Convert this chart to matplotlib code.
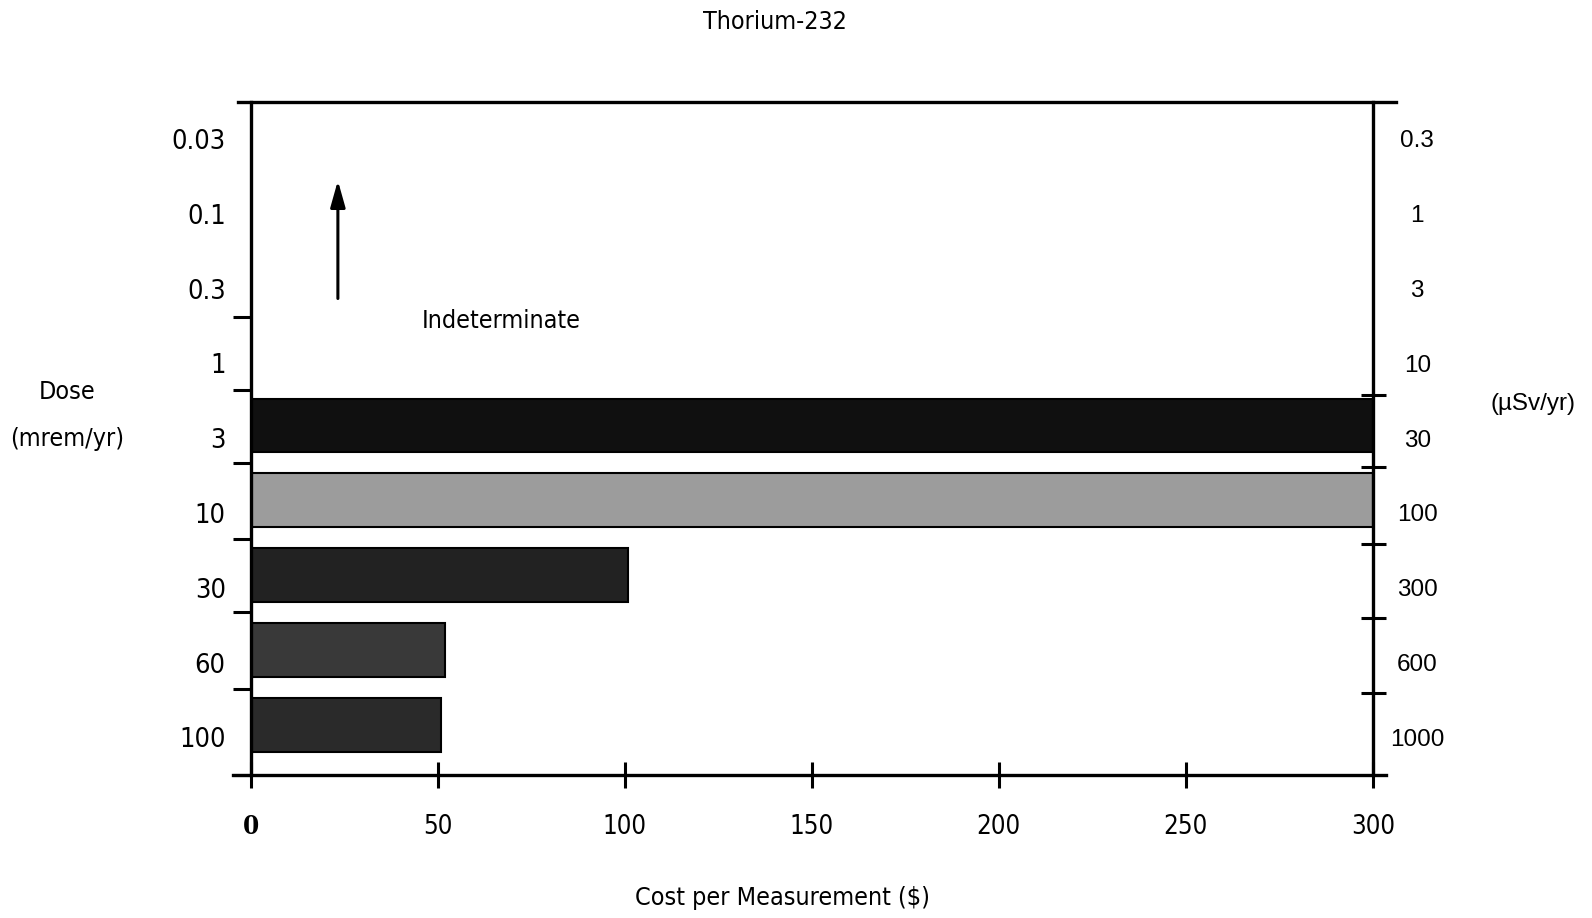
import matplotlib
matplotlib.use("Agg")
import matplotlib.pyplot as plt

# dose categories, top to bottom
dose_mrem = ["0.03", "0.1", "0.3", "1", "3", "10", "30", "60", "100"]
dose_usv = ["0.3", "1", "3", "10", "30", "100", "300", "600", "1000"]

# bars: dose row -> cost per measurement ($)
bar_rows = ["3", "10", "30", "60", "100"]
bar_cost = [300, 300, 101, 52, 51]
bar_colors = ["#101010", "#9c9c9c", "#222222", "#393939", "#2a2a2a"]

xticks = [0, 50, 100, 150, 200, 250, 300]

plt.rcParams["font.family"] = ["DejaVu Sans"]
plt.rcParams["font.stretch"] = "condensed"
wide = ["Liberation Sans", "DejaVu Sans"]

fig = plt.figure(figsize=(15.92, 9.18), dpi=100)
ax = fig.add_axes([0.1575, 0.156, 0.7048, 0.7334])

# bars sit a little above the row labels in the original
pos = [dose_mrem.index(r) - 0.17 for r in bar_rows]
ax.barh(pos, bar_cost, height=0.72, color=bar_colors, edgecolor="black", linewidth=1.5)

ax.set_xlim(0, 300)
ax.set_ylim(8.5, -0.5)

# spines
for s in ["top", "bottom"]:
    ax.spines[s].set_visible(False)
for s in ["left", "right"]:
    ax.spines[s].set_linewidth(2.4)
ax.plot([-0.011, 1.021], [1, 1], transform=ax.transAxes, color="black", lw=2.4, clip_on=False)
ax.plot([-0.0155, 1.012], [0, 0], transform=ax.transAxes, color="black", lw=2.4, clip_on=False)

# x axis
ax.set_xticks(xticks)
ax.set_xticklabels([str(v) for v in xticks], fontsize=18.5)
ax.tick_params(axis="x", direction="inout", length=19, width=2.2, pad=19)
xl = ax.get_xticklabels()
xl[0].set_family("DejaVu Serif")
xl[0].set_fontweight("bold")
ax.set_xlabel("Cost per Measurement ($)", fontsize=18, labelpad=33)
ax.xaxis.label.set_x(0.474)

# left y axis
ax.set_yticks(range(len(dose_mrem)))
ax.set_yticklabels(dose_mrem, fontsize=19.5)
ax.tick_params(axis="y", which="major", length=0, pad=18)
ax.set_yticks([2.38, 3.36, 4.33, 5.35, 6.33, 7.35, 8.5], minor=True)
ax.tick_params(axis="y", which="minor", direction="out", length=13, width=2.2)

# right y axis
ax2 = ax.twinx()
ax2.set_ylim(8.5, -0.5)
ax2.set_yticks(range(len(dose_usv)))
ax2.set_yticklabels(dose_usv, fontsize=17.5, family=wide, stretch="normal", ha="center")
ax2.tick_params(axis="y", which="major", length=0, pad=32)
ax2.set_yticks([3.42, 4.39, 5.42, 6.41, 7.41], minor=True)
ax2.tick_params(axis="y", which="minor", direction="inout", length=18, width=2.2)
for s in ax2.spines.values():
    s.set_visible(False)

# arrow and label
ax.annotate("", xy=(23.3, 0.52), xytext=(23.3, 2.17),
            arrowprops=dict(arrowstyle="-|>,head_width=0.45,head_length=1.6", color="black", lw=2.2))
ax.text(67, 2.43, "Indeterminate", fontsize=18, ha="center", va="center")

fig.text(0.4866, 0.9757, "Thorium-232", fontsize=18, ha="center", va="center")
fig.text(0.042, 0.573, "Dose", fontsize=18, ha="center", va="center")
fig.text(0.042, 0.522, "(mrem/yr)", fontsize=18, ha="center", va="center")
fig.text(0.963, 0.560, "(\u00b5Sv/yr)", fontsize=17.5, ha="center", va="center",
         family=wide, stretch="normal")

fig.savefig("out.png", dpi=100)
